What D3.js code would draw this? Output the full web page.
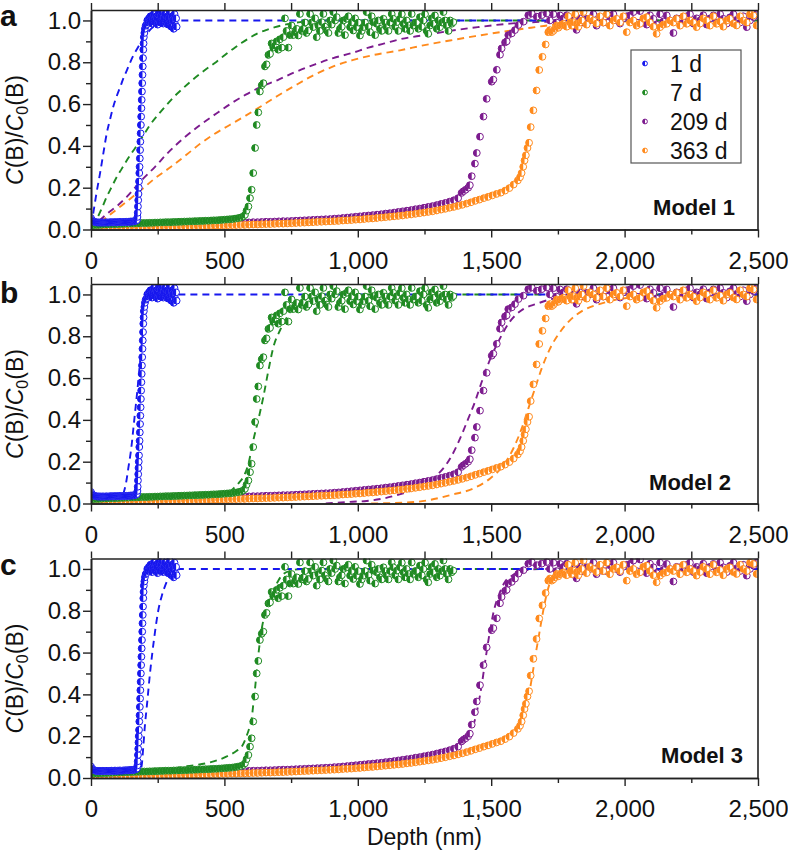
<!DOCTYPE html>
<html><head><meta charset="utf-8">
<script src="https://cdn.jsdelivr.net/npm/d3@7"></script>
<style>
body{margin:0;background:#fff}
svg{display:block}
text{font-family:"Liberation Sans",Arial,Helvetica,sans-serif;fill:#111}
</style>
</head><body>
<svg id="chart" width="788" height="853"></svg>
<script>
// ---------- categories / labels ----------
const seriesNames = ["1 d", "7 d", "209 d", "363 d"];
const seriesColors = ["#1717ee", "#1f8a22", "#7c1b8e", "#ff8a1c"];
const panelLetters = ["a", "b", "c"];
const modelNames = ["Model 1", "Model 2", "Model 3"];
const xTicks = [0, 500, 1000, 1500, 2000, 2500];
const xMinorTicks = [250, 750, 1250, 1750, 2250];
const yTicks = [0, 0.2, 0.4, 0.6, 0.8, 1.0];
const yMinorTicks = [0.1, 0.3, 0.5, 0.7, 0.9];

// ---------- measured profiles [depth nm, C/C0] ----------
const data1d = [
[0,.055],[4,.045],[8,.04],[12,.037],[16,.035],[20,.034],[24,.034],[28,.033],[32,.034],[36,.033],[40,.033],[44,.034],[48,.033],[52,.033],[56,.034],[60,.034],[64,.033],[68,.034],[72,.034],[76,.035],[80,.034],[84,.034],[88,.035],[92,.035],[96,.034],[100,.035],[104,.035],[108,.036],[112,.035],[116,.035],[120,.036],[124,.036],[128,.036],[132,.037],[136,.036],[140,.037],[144,.037],[148,.038],[152,.038],[156,.038],[160,.039],[164,.04],[168,.042],[172,.045],
[174,.06],[175,.08],[176,.11],[177,.14],[178,.17],[179,.2],[180,.23],[181,.27],[182,.3],[183,.34],[184,.38],[185,.42],[186,.46],[187,.5],[188,.54],[189,.58],[190,.62],[191,.66],[192,.7],[193,.74],[194,.78],[195,.82],[196,.86],[197,.89],[198,.92],[200,.94],[202,.96],[205,.975],
[208,.98],[211,1.0],[214,.99],[217,1.01],[220,.995],[223,1.02],[226,1.0],[229,.985],[232,1.01],[235,1.03],[238,1.0],[241,.99],[244,1.02],[247,1.01],[250,.98],[253,1.03],[256,1.0],[259,.99],[262,1.02],[265,1.04],[268,1.0],[271,.985],[274,1.01],[277,1.03],[280,.99],[283,1.0],[286,1.02],[289,.98],[292,1.01],[295,1.04],[298,.99],[301,.97],[304,1.02],[307,1.0],[310,.96],[313,1.03],[316,.98],[319,1.01],[321,.97]
];
const data7d = [
[0,.02],[10,.021],[20,.022],[30,.022],[40,.023],[50,.024],[60,.024],[70,.025],[80,.025],[90,.026],[100,.026],[110,.027],[120,.027],[130,.028],[140,.028],[150,.029],[160,.029],[170,.03],[180,.03],[190,.031],[200,.031],[210,.031],[220,.032],[230,.032],[240,.033],[250,.033],[260,.034],[270,.034],[280,.035],[290,.035],[300,.035],[310,.036],[320,.036],[330,.037],[340,.037],[350,.038],[360,.038],[370,.039],[380,.039],[390,.04],[400,.04],[410,.041],[420,.041],[430,.042],[440,.042],[450,.043],[460,.044],[470,.044],[480,.045],[490,.046],[500,.047],[510,.048],[520,.049],[530,.05],[540,.052],[550,.054],[560,.057],[570,.062],
[577,.07],[583,.09],[590,.11],[596,.15],[602,.19],[608,.27],[615,.39],[621,.5],[627,.56],[633,.66],[640,.69],[646,.7],[652,.78],[658,.79],[665,.835],[671,.84],[677,.89],[683,.87],[690,.88],[696,.9],[702,.86],[708,.91],[715,.87],[721,.92],[727,1.01],[733,.95],[740,.87],
[746,.93],[752,.976],[758,.93],[765,.944],[771,.96],[777,.928],[783,1.031],[790,.95],[796,.96],[802,.99],[808,.94],[815,.952],[821,1.031],[827,.99],[833,.968],[840,1.01],[846,.92],[852,.976],[858,.95],[865,.992],[871,1.031],[877,.97],[883,.952],[890,.94],[896,1.0],[902,.98],[908,1.04],[915,1.0],[921,1.016],[927,.94],[933,.96],[940,.97],[946,1.0],[952,.93],[958,1.008],[965,1.02],[971,.968],[977,.99],[983,.952],[990,1.01],[996,.968],[1002,.99],[1008,.928],[1015,.95],[1021,.968],[1027,.99],[1033,1.04],[1040,.97],[1046,.944],[1052,1.02],[1058,.992],[1065,.93],[1071,.984],[1077,1.0],[1083,.96],[1090,.95],[1096,1.008],[1102,.99],[1108,.968],[1115,.95],[1121,.99],[1127,1.031],[1133,1.008],[1140,.97],[1146,.992],[1152,.95],[1158,1.008],[1165,1.03],[1171,.984],[1177,.96],[1183,1.0],[1190,.976],[1196,.95],[1202,1.031],[1208,.976],[1215,.99],[1221,.99],[1227,.96],[1233,1.016],[1240,.97],[1246,1.0],[1252,1.03],[1258,.95],[1264,.936],[1271,.976],[1277,1.01],[1283,.984],[1289,1.024],[1296,.96],[1302,1.0],[1308,.968],[1315,.99],[1321,1.04],[1327,1.0],[1333,.976],[1340,.95],[1346,1.0],[1352,.984],[1358,.992]
];
const data209d = [
[0,.015],[16,.016],[32,.016],[48,.017],[64,.017],[80,.018],[96,.018],[112,.019],[128,.019],[144,.019],[160,.02],[176,.02],[192,.021],[208,.021],[224,.022],[240,.022],[256,.023],[272,.023],[288,.024],[304,.024],[320,.025],[336,.025],[352,.026],[368,.026],[384,.027],[400,.027],[416,.028],[432,.028],[448,.029],[464,.029],[480,.03],[496,.03],[512,.031],[528,.031],[544,.032],[560,.033],[576,.033],[592,.034],[608,.035],[624,.035],[640,.036],[656,.037],[672,.037],[688,.038],[704,.039],[720,.04],[736,.04],[752,.041],[768,.042],[784,.043],[800,.044],[816,.045],[832,.046],[848,.047],[864,.048],[880,.049],[896,.05],[912,.052],[928,.053],[944,.055],[960,.057],[976,.059],[992,.061],[1008,.063],[1024,.065],[1040,.067],[1056,.069],[1072,.071],[1088,.073],[1104,.076],[1120,.078],[1136,.081],[1152,.084],[1168,.087],[1184,.09],[1200,.093],[1216,.097],[1232,.1],[1248,.104],[1264,.108],[1280,.112],[1296,.117],[1312,.122],[1328,.127],[1344,.133],[1360,.14],[1376,.15],[1389,.175],[1396,.183],[1404,.19],[1414,.2],[1420,.212],
[1427,.255],[1439,.315],[1446,.366],[1458,.444],[1471,.54],[1483,.625],[1502,.707],[1508,.717],[1521,.764],[1533,.836],[1539,.866],[1552,.895],[1558,.9],[1564,.93],[1577,.938],[1589,.954],[1602,.978],[1621,.994],[1639,1.025],[1652,1.033],[1671,1.018],[1689,1.025],[1708,1.033],
[1720,1.0],[1733,1.03],[1745,.99],[1758,1.024],[1770,1.01],[1783,1.025],[1795,.98],[1808,1.0],[1820,.955],[1833,1.01],[1845,.99],[1858,1.008],[1870,1.0],[1883,1.03],[1895,.975],[1908,1.016],[1920,.99],[1933,.99],[1945,1.02],[1958,1.03],[1970,1.0],[1983,.985],[1995,1.01],[2008,1.02],[2020,1.024],[2033,1.04],[2045,.99],[2058,1.045],[2070,1.0],[2083,.98],[2095,1.025],[2108,1.008],[2120,.98],[2133,1.03],[2145,.995],[2158,1.024],[2170,1.0],[2183,.94],[2195,1.01],[2208,1.008],[2220,.99],[2233,1.02],[2245,1.03],[2258,.985],[2270,1.01],[2283,1.0],[2295,1.025],[2308,.98],[2320,1.01],[2333,1.024],[2345,.99],[2358,1.03],[2370,1.008],[2383,.985],[2395,1.015],[2408,1.03],[2420,1.0],[2433,.99],[2445,1.02],[2458,.968],[2470,1.0],[2483,1.016],[2495,1.03]
];
const data363d = [
[0,.008],[16,.008],[32,.009],[48,.009],[64,.009],[80,.01],[96,.01],[112,.01],[128,.011],[144,.011],[160,.011],[176,.012],[192,.012],[208,.012],[224,.013],[240,.013],[256,.013],[272,.014],[288,.014],[304,.014],[320,.015],[336,.015],[352,.015],[368,.016],[384,.016],[400,.017],[416,.017],[432,.018],[448,.018],[464,.019],[480,.019],[496,.02],[512,.02],[528,.021],[544,.021],[560,.022],[576,.022],[592,.023],[608,.024],[624,.024],[640,.025],[656,.026],[672,.026],[688,.027],[704,.028],[720,.028],[736,.029],[752,.03],[768,.031],[784,.032],[800,.033],[816,.034],[832,.035],[848,.036],[864,.037],[880,.038],[896,.039],[912,.04],[928,.041],[944,.043],[960,.044],[976,.045],[992,.047],[1008,.048],[1024,.05],[1040,.052],[1056,.053],[1072,.055],[1088,.057],[1104,.059],[1120,.061],[1136,.063],[1152,.065],[1168,.067],[1184,.07],[1200,.072],[1216,.075],[1232,.078],[1248,.081],[1264,.084],[1280,.087],[1296,.091],[1312,.095],[1328,.099],[1344,.104],[1360,.108],[1376,.113],[1392,.118],[1408,.124],[1424,.13],[1440,.137],[1456,.143],[1472,.15],[1488,.156],[1504,.163],[1520,.17],[1536,.176],[1552,.186],[1568,.198],[1584,.215],[1600,.235],
[1608,.25],[1614,.27],[1620,.3],[1625,.33],[1630,.355],[1636,.39],[1642,.415],[1648,.49],[1658,.57],[1670,.665],[1680,.763],[1692,.826],[1704,.885],[1714,.944],
[1720,.954],[1727,.944],[1733,.95],[1740,.96],[1746,.976],[1752,.965],[1758,.975],[1764,.98],[1771,.984],[1777,.975],[1783,.97],[1789,1.02],[1796,.99],[1802,.975],[1808,.992],[1815,1.03],[1821,.985],[1827,.97],[1833,.99],[1840,1.0],[1846,1.04],[1858,.98],[1870,1.01],[1883,1.0],[1895,.985],[1908,1.02],[1920,.99],[1933,1.03],[1945,.975],[1958,1.0],[1970,1.008],[1983,.99],[1995,1.02],[2008,.944],[2020,.99],[2033,1.0],[2045,.975],[2058,.984],[2070,1.01],[2083,1.016],[2095,.99],[2108,.97],[2120,.936],[2133,.968],[2145,.98],[2158,.984],[2170,1.0],[2183,.99],[2195,1.008],[2208,.975],[2220,1.02],[2233,.984],[2245,1.0],[2258,.99],[2270,.968],[2283,.985],[2295,1.01],[2308,1.0],[2320,.975],[2333,1.02],[2345,.984],[2358,.995],[2370,.97],[2383,1.0],[2395,1.008],[2408,.985],[2420,.976],[2433,1.02],[2445,1.0],[2458,.99],[2470,1.03],[2483,1.024],[2495,.976]
];

// ---------- model fits [depth nm, C/C0] ----------
const model1_1d = [[0,.02],[5,.05],[10,.09],[20,.17],[34,.27],[47,.37],[59,.46],[72,.53],[84,.59],[97,.64],[109,.68],[122,.725],[134,.76],[147,.8],[159,.833],[172,.862],[184,.889],[197,.915],[209,.936],[225,.96],[245,.978],[270,.99],[300,.997],[330,1],[2500,1]];
const model1_7d = [[0,.02],[21,.05],[40,.1],[59,.156],[78,.205],[96,.25],[115,.29],[134,.33],[152,.365],[171,.4],[196,.45],[221,.5],[252,.55],[284,.597],[315,.64],[346,.677],[377,.712],[409,.745],[440,.775],[471,.803],[502,.835],[534,.865],[565,.893],[596,.918],[627,.94],[659,.955],[690,.968],[721,.978],[752,.986],[784,.992],[830,.998],[900,1],[2500,1]];
const model1_209d = [[0,0],[30,.04],[60,.075],[100,.115],[134,.156],[184,.228],[240,.3],[283,.36],[350,.44],[409,.5],[470,.555],[534,.61],[580,.645],[633,.68],[700,.715],[760,.75],[840,.79],[908,.82],[980,.845],[1040,.87],[1100,.89],[1158,.91],[1250,.93],[1345,.95],[1450,.968],[1570,.985],[1720,.995],[1900,1],[2500,1]];
const model1_363d = [[0,0],[30,.03],[60,.06],[100,.1],[140,.14],[184,.185],[240,.245],[300,.3],[360,.36],[409,.41],[460,.455],[520,.5],[580,.545],[633,.586],[700,.64],[760,.685],[830,.735],[908,.78],[980,.81],[1060,.835],[1158,.857],[1250,.882],[1345,.904],[1440,.925],[1533,.944],[1630,.962],[1720,.977],[1850,.988],[2000,.995],[2200,1],[2500,1]];

const model2_1d = [[95,0],[110,.02],[122,.05],[131,.096],[140,.17],[150,.255],[162,.398],[175,.557],[188,.732],[200,.876],[212,.96],[225,.99],[240,1],[2500,1]];
const model2_7d = [[440,0],[480,.02],[510,.045],[534,.072],[555,.1],[571,.127],[590,.19],[608,.3],[627,.4],[646,.51],[665,.637],[684,.75],[709,.83],[734,.89],[759,.94],[784,.97],[810,.988],[850,1],[2500,1]];
const model2_209d = [[880,0],[971,.008],[1033,.012],[1096,.024],[1160,.045],[1221,.072],[1260,.1],[1296,.135],[1346,.215],[1383,.31],[1414,.406],[1439,.486],[1464,.58],[1496,.69],[1533,.79],[1570,.87],[1620,.93],[1670,.955],[1720,.976],[1783,.99],[1850,1],[2500,1]];
const model2_363d = [[1050,0],[1221,.008],[1300,.025],[1346,.04],[1433,.072],[1496,.12],[1546,.183],[1583,.263],[1614,.358],[1639,.454],[1664,.55],[1689,.645],[1720,.74],[1758,.82],[1795,.876],[1845,.924],[1908,.955],[1970,.976],[2095,.992],[2200,1],[2500,1]];

const model3_1d = [[170,0],[180,.02],[190,.06],[196,.15],[202,.25],[209,.34],[215,.42],[221,.5],[230,.6],[240,.7],[252,.8],[265,.87],[278,.92],[290,.955],[303,.98],[318,.995],[335,1],[2500,1]];
const model3_7d = [[0,.01],[100,.016],[200,.025],[284,.04],[358,.056],[434,.071],[509,.103],[546,.13],[565,.15],[583,.2],[596,.25],[602,.28],[608,.35],[615,.43],[621,.51],[627,.587],[633,.65],[640,.714],[652,.786],[665,.84],[684,.897],[702,.944],[721,.976],[750,.992],[790,1],[2500,1]];
const model3_209d = [[0,.005],[300,.015],[600,.03],[900,.05],[1100,.075],[1250,.1],[1350,.135],[1400,.175],[1430,.24],[1450,.34],[1465,.45],[1480,.58],[1495,.7],[1510,.8],[1530,.88],[1550,.935],[1580,.97],[1620,.99],[1680,1],[2500,1]];
const model3_363d = [[0,.003],[400,.01],[800,.025],[1000,.04],[1200,.065],[1350,.095],[1450,.13],[1530,.17],[1580,.21],[1610,.26],[1630,.33],[1650,.46],[1665,.58],[1680,.69],[1695,.8],[1710,.89],[1725,.95],[1745,.98],[1780,1],[2500,1]];

// ---------- assembly ----------
const measured = [data1d, data7d, data209d, data363d];
const modelSets = [
  [model1_1d, model1_7d, model1_209d, model1_363d],
  [model2_1d, model2_7d, model2_209d, model2_363d],
  [model3_1d, model3_7d, model3_209d, model3_363d]
];

const svg = d3.select("#chart");
const plotLeft = 91, plotRight = 758, plotH = 219.5;
const panelTops = [10, 284, 558.5];
const x = d3.scaleLinear().domain([0, 2500]).range([plotLeft, plotRight]);
const drawOrder = [2, 3, 1, 0];
const R = 3.4;
const halfPath = r => `M0,${-r}A${r},${r} 0 0,0 0,${r}Z`;

function marker(sel, cx, cy, r, color) {
  const g = sel.append("g").attr("transform", `translate(${cx},${cy})`);
  g.append("circle").attr("r", r).attr("fill", "#fff").attr("stroke", color).attr("stroke-width", 1);
  g.append("path").attr("d", halfPath(r)).attr("fill", color);
}

const modelLabelX = [735, 731, 743];
const modelLabelDy = [14.5, 13.5, 15];

panelTops.forEach((top, pi) => {
  const bottom = top + plotH;
  const y = d3.scaleLinear().domain([0, 1.05]).range([bottom, top]);
  const g = svg.append("g");

  const clipId = "clip" + pi;
  svg.append("clipPath").attr("id", clipId).append("rect")
    .attr("x", plotLeft).attr("y", top).attr("width", plotRight - plotLeft).attr("height", plotH);

  const plot = g.append("g").attr("clip-path", `url(#${clipId})`);
  const line = d3.line().x(d => x(d[0])).y(d => y(d[1])).curve(d3.curveMonotoneX);

  // model fits (dashed)
  [3, 2, 1, 0].forEach(si => {
    plot.append("path").attr("d", line(modelSets[pi][si]))
      .attr("fill", "none").attr("stroke", seriesColors[si])
      .attr("stroke-width", 1.9).attr("stroke-dasharray", "7,5");
  });

  // measured points
  drawOrder.forEach(si => {
    const sg = plot.append("g");
    measured[si].forEach(d => marker(sg, x(d[0]), y(d[1]), R, seriesColors[si]));
  });

  // axes
  const axStroke = "#222";
  g.append("g").attr("transform", `translate(0,${bottom})`)
    .call(d3.axisBottom(x).tickValues(xTicks).tickFormat(d3.format(",")).tickSize(8).tickSizeOuter(0).tickPadding(14));
  g.append("g").attr("transform", `translate(0,${bottom})`)
    .call(d3.axisBottom(x).tickValues(xMinorTicks).tickFormat("").tickSize(5).tickSizeOuter(0));
  g.append("g").attr("transform", `translate(0,${top})`)
    .call(d3.axisTop(x).tickValues(xTicks.concat(xMinorTicks)).tickFormat("").tickSize(7).tickSizeOuter(0));
  g.append("g").attr("transform", `translate(${plotLeft},0)`)
    .call(d3.axisLeft(y).tickValues(yTicks).tickFormat(d3.format(".1f")).tickSize(8).tickSizeOuter(0).tickPadding(2));
  g.append("g").attr("transform", `translate(${plotLeft},0)`)
    .call(d3.axisLeft(y).tickValues(yMinorTicks).tickFormat("").tickSize(5).tickSizeOuter(0));
  g.append("line").attr("x1", plotRight).attr("x2", plotRight).attr("y1", top).attr("y2", bottom);
  g.selectAll(".domain").attr("stroke", axStroke).attr("stroke-width", 1.6);
  g.selectAll(".tick line").attr("stroke", axStroke).attr("stroke-width", 1.4);
  g.selectAll("line").filter(function(){return !this.closest(".tick");}).attr("stroke", axStroke).attr("stroke-width", 1.6);
  g.selectAll(".tick text").attr("font-size", 24).attr("fill", "#111")
    .attr("font-family", "Liberation Sans, Arial, sans-serif");

  // y title
  const yt = g.append("text")
    .attr("transform", `translate(23,${top + 120}) rotate(-90)`)
    .attr("text-anchor", "middle").attr("font-size", 23);
  yt.append("tspan").attr("font-style", "italic").text("C");
  yt.append("tspan").text("(B)/");
  yt.append("tspan").attr("font-style", "italic").text("C");
  yt.append("tspan").attr("font-size", 16).attr("dy", 5).text("0");
  yt.append("tspan").attr("dy", -5).text("(B)");

  // panel letter
  g.append("text").attr("x", 0).attr("y", top + (pi === 1 ? 19 : 16))
    .attr("font-size", 30).attr("font-weight", "bold").text(panelLetters[pi]);

  // model label
  g.append("text").attr("x", modelLabelX[pi]).attr("y", bottom - modelLabelDy[pi])
    .attr("text-anchor", "end").attr("font-size", 22).attr("font-weight", "bold").text(modelNames[pi]);

  // legend (panel a)
  if (pi === 0) {
    const lg = g.append("g");
    lg.append("rect").attr("x", 631).attr("y", top + 40).attr("width", 110).attr("height", 113)
      .attr("fill", "#fff").attr("stroke", "#555").attr("stroke-width", 1.2);
    seriesNames.forEach((n, i) => {
      const cy = top + 53.5 + i * 29;
      marker(lg, 645, cy, 2.4, seriesColors[i]);
      lg.append("text").attr("x", 670).attr("y", cy).attr("dy", "0.35em")
        .attr("font-size", 23).text(n);
    });
  }
});

// x title
svg.append("text").attr("x", (plotLeft + plotRight) / 2).attr("y", 845)
  .attr("text-anchor", "middle").attr("font-size", 23).text("Depth (nm)");
</script>
</body></html>
